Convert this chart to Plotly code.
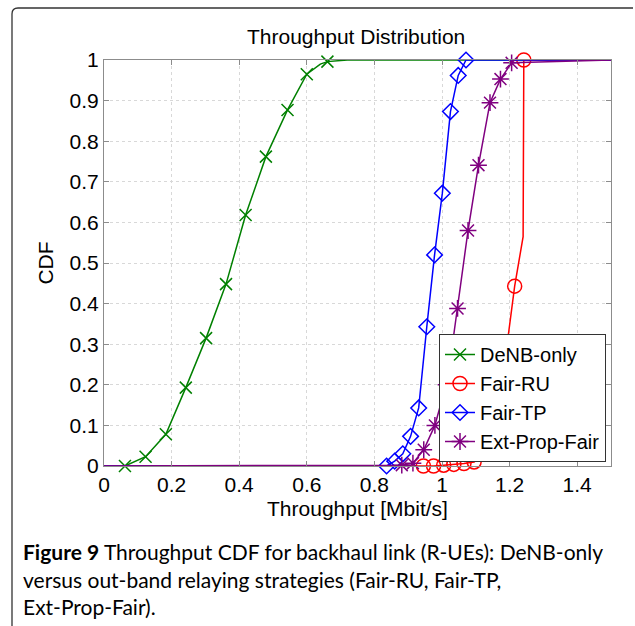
import plotly.graph_objects as go

# ---------------- data ----------------
series_names = ["DeNB-only", "Fair-RU", "Fair-TP", "Ext-Prop-Fair"]

# DeNB-only
denb_line_x = [0.0, 0.062, 0.123, 0.183, 0.242, 0.302, 0.361, 0.419, 0.479, 0.543, 0.600, 0.640, 0.661, 0.720, 1.5]
denb_line_y = [0.0, 0.000, 0.023, 0.078, 0.193, 0.315, 0.448, 0.618, 0.762, 0.877, 0.965, 0.990, 0.996, 1.000, 1.0]
denb_mk_x = [0.062, 0.123, 0.183, 0.242, 0.302, 0.361, 0.419, 0.479, 0.543, 0.600, 0.661]
denb_mk_y = [0.000, 0.023, 0.078, 0.193, 0.315, 0.448, 0.618, 0.762, 0.877, 0.965, 0.996]

# Fair-RU
ru_line_x = [0.0, 0.945, 0.975, 1.005, 1.035, 1.065, 1.095, 1.125, 1.155, 1.185, 1.193, 1.215, 1.240, 1.242, 1.5]
ru_line_y = [0.0, 0.000, 0.000, 0.002, 0.004, 0.006, 0.010, 0.030, 0.120, 0.260, 0.302, 0.443, 0.565, 1.000, 1.0]
ru_mk_x = [0.945, 0.975, 1.005, 1.035, 1.065, 1.095, 1.125, 1.155, 1.185, 1.215, 1.242]
ru_mk_y = [0.000, 0.000, 0.002, 0.004, 0.006, 0.010, 0.030, 0.120, 0.260, 0.443, 1.000]

# Fair-TP
tp_line_x = [0.0, 0.836, 0.860, 0.884, 0.907, 0.931, 0.955, 0.978, 1.001, 1.025, 1.048, 1.071, 1.5]
tp_line_y = [0.0, 0.000, 0.012, 0.030, 0.073, 0.143, 0.343, 0.520, 0.672, 0.873, 0.962, 1.000, 1.0]
tp_mk_x = [0.836, 0.860, 0.884, 0.907, 0.931, 0.955, 0.978, 1.001, 1.025, 1.048, 1.071]
tp_mk_y = [0.000, 0.012, 0.030, 0.073, 0.143, 0.343, 0.520, 0.672, 0.873, 0.962, 1.000]

# Ext-Prop-Fair
epf_line_x = [0.0, 0.881, 0.914, 0.946, 0.979, 1.012, 1.028, 1.046, 1.077, 1.108, 1.142, 1.173, 1.206, 1.5]
epf_line_y = [0.0, 0.002, 0.007, 0.040, 0.100, 0.200, 0.282, 0.388, 0.580, 0.741, 0.895, 0.953, 0.993, 1.0]
epf_mk_x = [0.881, 0.914, 0.946, 0.979, 1.012, 1.046, 1.077, 1.108, 1.142, 1.173, 1.206]
epf_mk_y = [0.002, 0.007, 0.040, 0.100, 0.200, 0.388, 0.580, 0.741, 0.895, 0.953, 0.993]

x_ticks = [0, 0.2, 0.4, 0.6, 0.8, 1.0, 1.2, 1.4]
x_tick_labels = ["0", "0.2", "0.4", "0.6", "0.8", "1", "1.2", "1.4"]
y_ticks = [0, 0.1, 0.2, 0.3, 0.4, 0.5, 0.6, 0.7, 0.8, 0.9, 1.0]
y_tick_labels = ["0", "0.1", "0.2", "0.3", "0.4", "0.5", "0.6", "0.7", "0.8", "0.9", "1"]

title_text = "Throughput Distribution"
x_title = "Throughput [Mbit/s]"
y_title = "CDF"
caption_lines = [
    "<b>Figure 9</b> Throughput CDF for backhaul link (R-UEs): DeNB-only",
    "versus out-band relaying strategies (Fair-RU, Fair-TP,",
    "Ext-Prop-Fair).",
]

# ---------------- styling ----------------
W, H = 635, 626
L, R, T, B = 104, 24, 60, 160
FONT = "Liberation Sans, Arial, sans-serif"

colors = ["#008000", "#ff0000", "#0000ff", "#800080"]
symbols = ["x-thin-open", "circle-open", "diamond-open", "asterisk-open"]
sizes = [12, 14, 12, 14]

fig = go.Figure()

lines = [(denb_line_x, denb_line_y), (ru_line_x, ru_line_y), (tp_line_x, tp_line_y), (epf_line_x, epf_line_y)]
marks = [(denb_mk_x, denb_mk_y), (ru_mk_x, ru_mk_y), (tp_mk_x, tp_mk_y), (epf_mk_x, epf_mk_y)]

for i, name in enumerate(series_names):
    lx, ly = lines[i]
    mx, my = marks[i]
    fig.add_trace(go.Scatter(x=lx, y=ly, mode="lines", line=dict(color=colors[i], width=1.5),
                             showlegend=False, cliponaxis=False, hoverinfo="skip"))
    fig.add_trace(go.Scatter(x=mx, y=my, mode="markers",
                             marker=dict(symbol=symbols[i], size=sizes[i], color=colors[i],
                                         line=dict(color=colors[i], width=1.5)),
                             showlegend=False, cliponaxis=False, name=name))
    fig.add_trace(go.Scatter(x=[None], y=[None], mode="lines+markers", name=name,
                             line=dict(color=colors[i], width=1.5),
                             marker=dict(symbol=symbols[i], size=sizes[i], color=colors[i],
                                         line=dict(color=colors[i], width=1.5))))

axis_common = dict(
    showline=True, linecolor="#8c8c8c", linewidth=1, mirror="ticks",
    ticks="inside", ticklen=5, tickcolor="#8c8c8c",
    showgrid=True, gridcolor="#d8d8d8", griddash="dot", gridwidth=1,
    zeroline=False, tickfont=dict(family=FONT, size=21, color="#000"),
)

fig.update_xaxes(range=[0, 1.5], tickvals=x_ticks, ticktext=x_tick_labels,
                 title=dict(text=x_title, font=dict(family=FONT, size=21, color="#000"), standoff=6),
                 **axis_common)
fig.update_yaxes(range=[0, 1], tickvals=y_ticks, ticktext=y_tick_labels,
                 title=dict(text=y_title, font=dict(family=FONT, size=21, color="#000"), standoff=10),
                 **axis_common)


def px_x(p):
    return (p - L) / (W - L - R)


def px_y(p):
    return (H - B - p) / (H - T - B)


annotations = [
    dict(text=title_text, x=px_x(356), y=px_y(36), xref="paper", yref="paper",
         showarrow=False, xanchor="center", yanchor="middle",
         font=dict(family=FONT, size=21, color="#000")),
]
cap_y = [551, 579, 606]
for txt, yy in zip(caption_lines, cap_y):
    annotations.append(dict(text=txt, x=px_x(21), y=px_y(yy), xref="paper", yref="paper",
                            showarrow=False, xanchor="left", yanchor="middle", align="left",
                            font=dict(family="Lato, sans-serif", size=21, color="#000")))

r = 6
frame_path = (f"M {px_x(12)} {px_y(626)} L {px_x(12)} {px_y(8 + r)} "
              f"Q {px_x(12)} {px_y(8)} {px_x(12 + r)} {px_y(8)} L {px_x(633)} {px_y(8)}")

fig.update_layout(
    width=W, height=H,
    margin=dict(l=L, r=R, t=T, b=B, autoexpand=False),
    paper_bgcolor="white", plot_bgcolor="white",
    font=dict(family=FONT, size=21, color="#000"),
    showlegend=True,
    legend=dict(x=px_x(606), y=px_y(462), xanchor="right", yanchor="bottom",
                bgcolor="white", bordercolor="#333", borderwidth=1,
                font=dict(family=FONT, size=20, color="#000"),
                tracegroupgap=0, itemwidth=30),
    annotations=annotations,
    shapes=[dict(type="path", path=frame_path, xref="paper", yref="paper",
                 line=dict(color="#333", width=1.3))],
)

fig.write_html("out.html")
